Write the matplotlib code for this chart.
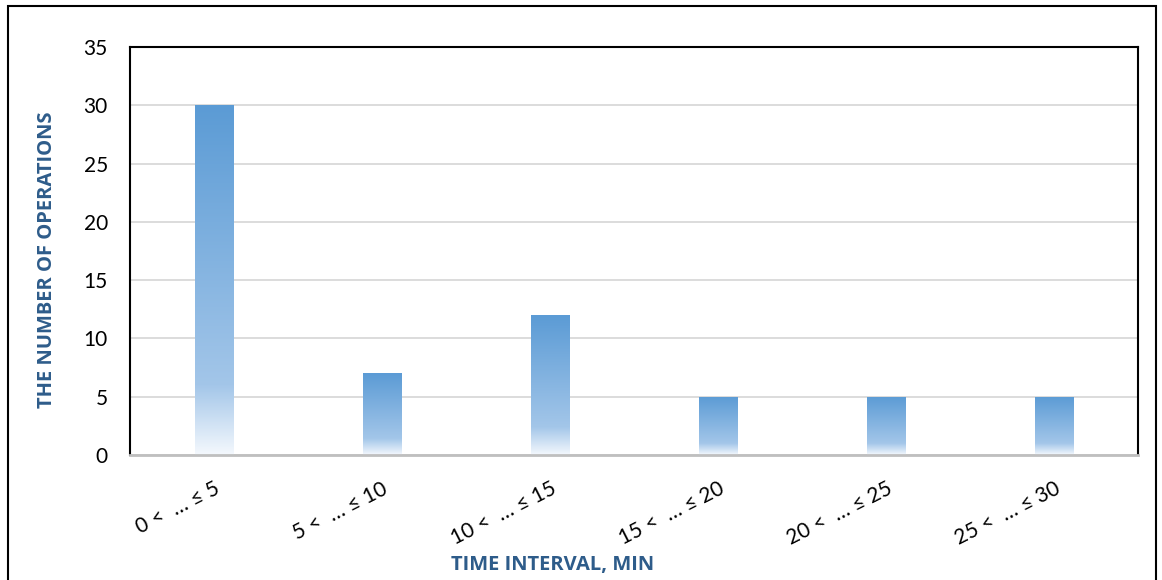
import numpy as np
import matplotlib
matplotlib.use("Agg")
import matplotlib.pyplot as plt
from matplotlib.patches import Rectangle
from matplotlib.colors import LinearSegmentedColormap

categories = ["0 <  … ≤ 5", "5 <  … ≤ 10", "10 <  … ≤ 15", "15 <  … ≤ 20", "20 <  … ≤ 25", "25 <  … ≤ 30"]
values = [30, 7, 12, 5, 5, 5]
y_ticks = [0, 5, 10, 15, 20, 25, 30, 35]

plt.rcParams['font.family'] = ['Lato', 'DejaVu Sans']

W, H = 1162, 580
fig = plt.figure(figsize=(W / 100, H / 100), dpi=100)
ax = fig.add_axes([130 / W, 1 - 455 / H, (1138 - 130) / W, (455 - 47) / H])

cmap = LinearSegmentedColormap.from_list(
    "g", [(0.0, "#F4F8FD"), (0.2, "#A3C6E9"), (1.0, "#5B9BD5")])

bw = 0.23
x = np.arange(len(categories))
grad = np.linspace(0, 1, 256).reshape(-1, 1)
for xi, v in zip(x, values):
    rect = Rectangle((xi - bw / 2, 0), bw, v, facecolor="none", edgecolor="none")
    ax.add_patch(rect)
    im = ax.imshow(grad, cmap=cmap, aspect="auto", origin="lower",
                   extent=(xi - bw / 2, xi + bw / 2, 0, v), zorder=2)
    im.set_clip_path(rect)

ax.set_xlim(-0.5, len(categories) - 0.5)
ax.set_ylim(0, 35)
ax.set_yticks(y_ticks)
ax.set_xticks(x)
ax.set_xticklabels(categories, rotation=27, ha="right", rotation_mode="anchor")
ax.tick_params(axis="both", length=0, labelsize=15, colors="black")
ax.tick_params(axis="x", pad=17)
ax.tick_params(axis="y", pad=16)
ax.yaxis.grid(True, color="#D9D9D9", linewidth=1.3, zorder=0)
ax.set_axisbelow(True)
for s in ["left", "top", "right"]:
    ax.spines[s].set_color("black")
    ax.spines[s].set_linewidth(1.5)
ax.spines["bottom"].set_color("#BFBFBF")
ax.spines["bottom"].set_linewidth(2)

lab_color = "#2E5C8A"
fig.text(47 / W, 1 - 260 / H, "THE NUMBER OF OPERATIONS", rotation=90,
         ha="center", va="center", fontsize=14.5, fontweight="bold", color=lab_color,
         family=["Open Sans", "DejaVu Sans"])
fig.text(553 / W, 1 - 565 / H, "TIME INTERVAL, MIN", ha="center", va="center",
         fontsize=14.5, fontweight="bold", color=lab_color,
         family=["Open Sans", "DejaVu Sans"])

border = Rectangle((8 / W, -0.1), (1156 - 8) / W, 1.1 - 6 / H, transform=fig.transFigure,
                   facecolor="none", edgecolor="black", linewidth=1.5, clip_on=False)
fig.patches.append(border)

fig.savefig("out.png", dpi=100)
